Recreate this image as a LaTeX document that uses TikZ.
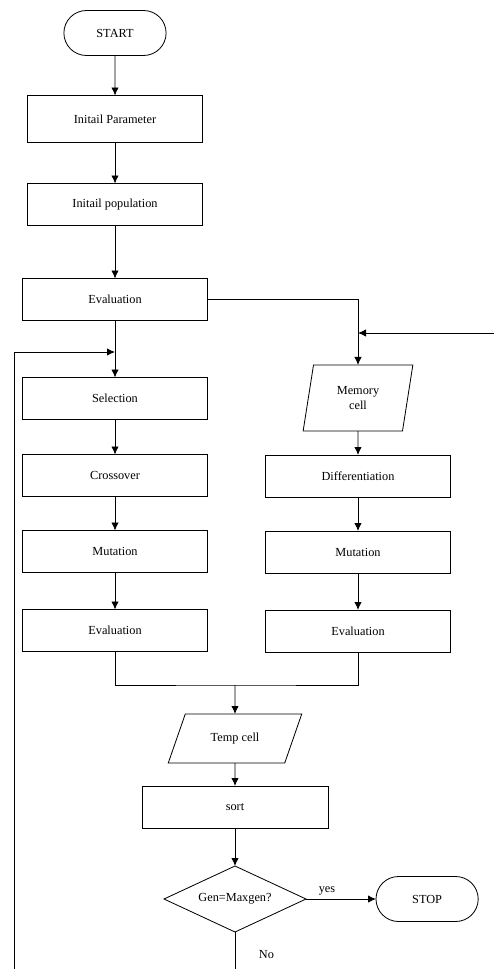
\documentclass[tikz,border=0pt]{standalone}
\usepackage{fontspec}
\setmainfont{Liberation Serif}
\usetikzlibrary{positioning,shapes.geometric,shapes.misc,arrows.meta}

\begin{document}
\begin{tikzpicture}[node distance=1cm, line width=0.7pt,
    >={Latex[length=2.4mm,width=2.2mm]},
    every node/.style={font=\fontsize{10.5}{12}\selectfont,outer sep=0pt},
    term/.style={rounded rectangle,draw,minimum width=3.3cm,minimum height=1.35cm},
    proc/.style={rectangle,draw,minimum width=5.55cm,minimum height=1.26cm},
    io/.style={trapezium,draw,trapezium stretches=true,align=center},
    decide/.style={diamond,draw,aspect=2.15,minimum width=4.26cm,minimum height=1.98cm,inner sep=0pt}]
  \useasboundingbox (0,0) rectangle (14.82,-29.07);

  % main column
  \node[term] (start) at (3.45,-0.99) {START};
  \node[proc,minimum width=5.25cm,minimum height=1.41cm] (param) [below=1.2cm of start] {Initail Parameter};
  \node[proc,minimum width=5.25cm] (pop) [below=1.23cm of param] {Initail population};
  \node[proc] (eval1) [below=1.59cm of pop] {Evaluation};
  \node[proc] (sel) [below=1.71cm of eval1] {Selection};
  \node[proc] (cross) [below=1.05cm of sel] {Crossover};
  \node[proc] (mut1) [below=1.02cm of cross] {Mutation};
  \node[proc] (eval2) [below=1.11cm of mut1] {Evaluation};

  % memory column
  \node[io,trapezium left angle=79,trapezium right angle=101,minimum width=3.3cm,minimum height=1.98cm] (mem) at (10.74,-11.94) {Memory\\cell};
  \node[proc] (diff) [below=0.72cm of mem] {Differentiation};
  \node[proc] (mut2) [below=1.02cm of diff] {Mutation};
  \node[proc] (eval3) [below=1.11cm of mut2] {Evaluation};

  % merge and test
  \node[io,trapezium left angle=63,trapezium right angle=117,minimum width=4.02cm,minimum height=1.47cm] (temp) at (7.05,-22.155) {Temp cell};
  \node[proc,minimum width=5.58cm] (sort) [below=0.69cm of temp] {sort};
  \node[decide] (dec) [below=1.14cm of sort] {Gen=Maxgen?};
  \node[term] (stop) [right=2.1cm of dec] {STOP};

  \coordinate (join) at (eval1.south |- 0,-10.56);
  \coordinate (inp) at (14.82,-9.99);
  \coordinate (merge) at (temp.north |- 0,-20.55);
  \coordinate (loopend) at (0.42,-29.07);
  \coordinate (noend) at (dec.south |- 0,-29.07);

  \path[->]
    (start) edge (param)
    (param) edge (pop)
    (pop) edge (eval1)
    (eval1) edge (sel)
    (sel) edge (cross)
    (cross) edge (mut1)
    (mut1) edge (eval2)
    (mem) edge (diff)
    (diff) edge (mut2)
    (mut2) edge (eval3)
    (merge) edge (temp)
    (temp) edge (sort)
    (sort) edge (dec)
    (dec) edge node[above,pos=0.3] {yes} (stop);
  \draw[->] (eval1.east) -| (mem.north);
  \draw[->] (inp) -- (inp -| mem.north);
  \draw (eval2.south) |- (merge) -| (eval3.south);
  \draw (dec.south) -- node[pos=0.6,right=0.6cm] {No} (noend);
  \draw[->] (loopend) |- (join);
\end{tikzpicture}
\end{document}
